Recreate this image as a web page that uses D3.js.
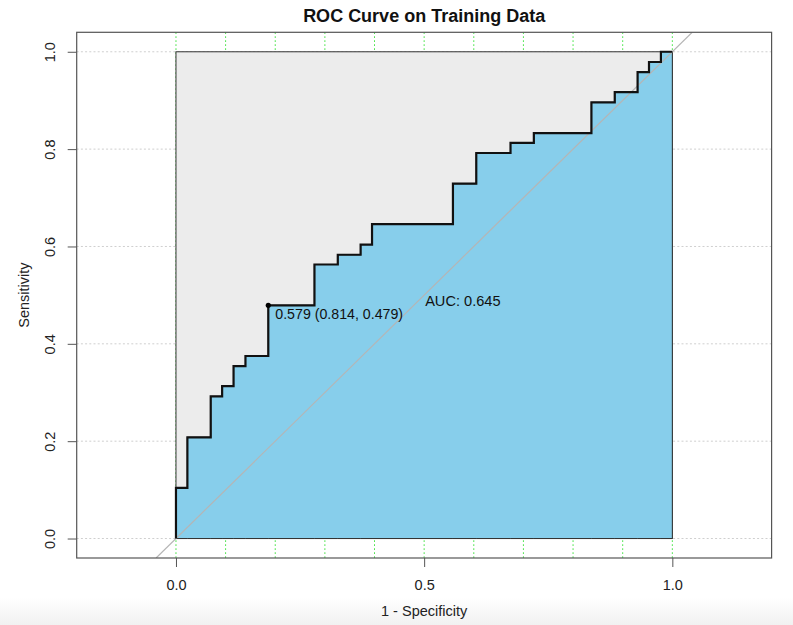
<!DOCTYPE html>
<html>
<head>
<meta charset="utf-8">
<script src="https://cdn.jsdelivr.net/npm/d3@7"></script>
<style>
  html, body { margin: 0; padding: 0; background: #fff; }
  svg { display: block; font-family: "Liberation Sans", Arial, Helvetica, sans-serif; }
</style>
</head>
<body>
<svg id="chart" width="793" height="625"></svg>
<script>
// ROC curve vertices (1 - specificity, sensitivity), stepped vertically first
const fpr = [0, 0.023, 0.070, 0.093, 0.116, 0.140, 0.186, 0.279, 0.326, 0.372, 0.395,
             0.558, 0.605, 0.674, 0.721, 0.837, 0.884, 0.930, 0.953, 0.977, 1.000];
const tpr = [0, 0.104, 0.208, 0.292, 0.313, 0.354, 0.375, 0.479, 0.563, 0.583, 0.604,
             0.646, 0.729, 0.792, 0.813, 0.833, 0.896, 0.917, 0.958, 0.979, 1.000];

// Best threshold and its (specificity, sensitivity)
const bestThreshold = 0.579;
const bestSpecificity = 0.814;
const bestSensitivity = 0.479;
const aucValue = 0.645;

// Axis ticks and grid positions
const xTicks = [0, 0.5, 1];
const xTickLabels = ["0.0", "0.5", "1.0"];
const yTicks = [0, 0.2, 0.4, 0.6, 0.8, 1.0];
const yTickLabels = ["0.0", "0.2", "0.4", "0.6", "0.8", "1.0"];
const xGrid = [0, 0.1, 0.2, 0.3, 0.4, 0.5, 0.6, 0.7, 0.8, 0.9, 1.0];
const yGrid = [0, 0.2, 0.4, 0.6, 0.8, 1.0];

(function () {
const svg = d3.select("#chart");

// faint band along the bottom edge
const defs = svg.append("defs");
const grad = defs.append("linearGradient").attr("id", "band")
  .attr("x1", 0).attr("y1", 0).attr("x2", 0).attr("y2", 1);
grad.append("stop").attr("offset", "0%").attr("stop-color", "#ffffff");
grad.append("stop").attr("offset", "100%").attr("stop-color", "#f1f1f1");
svg.append("rect").attr("x", 0).attr("y", 598).attr("width", 793).attr("height", 27)
  .attr("fill", "url(#band)");

const pLeft = 76.7, pRight = 771.6, pTop = 32.3, pBottom = 558.0;
const x = d3.scaleLinear().domain([-0.2, 1.2]).range([pLeft, pRight]);
const y = d3.scaleLinear().domain([-0.04, 1.04]).range([pBottom, pTop]);

defs.append("clipPath").attr("id", "plotclip")
  .append("rect").attr("x", pLeft).attr("y", pTop)
  .attr("width", pRight - pLeft).attr("height", pBottom - pTop);

const plot = svg.append("g").attr("clip-path", "url(#plotclip)");

// grid
plot.selectAll("line.hgrid").data(yGrid).join("line")
  .attr("class", "hgrid")
  .attr("x1", pLeft).attr("x2", pRight)
  .attr("y1", d => y(d)).attr("y2", d => y(d))
  .attr("stroke", "#cfcfcf").attr("stroke-width", 1)
  .attr("stroke-dasharray", "2,2.2");
plot.selectAll("line.vgrid").data(xGrid).join("line")
  .attr("class", "vgrid")
  .attr("x1", d => x(d)).attr("x2", d => x(d))
  .attr("y1", pTop).attr("y2", pBottom)
  .attr("stroke", "#3fe23f").attr("stroke-width", 1)
  .attr("stroke-dasharray", "1.6,2.4");

// maximum-AUC square
plot.append("rect")
  .attr("x", x(0)).attr("y", y(1))
  .attr("width", x(1) - x(0)).attr("height", y(0) - y(1))
  .attr("fill", "#ececec").attr("stroke", "#333").attr("stroke-width", 1);

const pts = fpr.map((f, i) => [f, tpr[i]]);

// area under the curve
const area = d3.area()
  .x(d => x(d[0])).y0(y(0)).y1(d => y(d[1]))
  .curve(d3.curveStepBefore);
plot.append("path").datum(pts)
  .attr("d", area)
  .attr("fill", "#87ceeb").attr("stroke", "#333").attr("stroke-width", 1);

// chance diagonal
plot.append("line")
  .attr("x1", x(-0.04)).attr("y1", y(-0.04))
  .attr("x2", x(1.04)).attr("y2", y(1.04))
  .attr("stroke", "#b5b5b5").attr("stroke-width", 1.2);

// ROC curve
const line = d3.line()
  .x(d => x(d[0])).y(d => y(d[1]))
  .curve(d3.curveStepBefore);
plot.append("path").datum(pts)
  .attr("d", line)
  .attr("fill", "none").attr("stroke", "#111").attr("stroke-width", 2.2)
  .attr("stroke-linejoin", "miter");

// best threshold
const bx = x(1 - bestSpecificity), by = y(bestSensitivity);
plot.append("circle").attr("cx", bx).attr("cy", by).attr("r", 2.6).attr("fill", "#000");
svg.append("text")
  .attr("x", bx + 7).attr("y", by + 9)
  .attr("dominant-baseline", "central")
  .attr("font-size", "14.2px").attr("fill", "#111")
  .text(`${bestThreshold.toFixed(3)} (${bestSpecificity.toFixed(3)}, ${bestSensitivity.toFixed(3)})`);

// AUC label
svg.append("text")
  .attr("x", x(0.5) + 1).attr("y", y(0.5) + 5.6)
  .attr("dominant-baseline", "central")
  .attr("font-size", "14.6px").attr("fill", "#111")
  .text(`AUC: ${aucValue.toFixed(3)}`);

// plot frame
svg.append("rect")
  .attr("x", pLeft).attr("y", pTop)
  .attr("width", pRight - pLeft).attr("height", pBottom - pTop)
  .attr("fill", "none").attr("stroke", "#555").attr("stroke-width", 1.2);

// x axis
const xAxis = d3.axisBottom(x).tickValues(xTicks).tickSize(9)
  .tickFormat((d, i) => xTickLabels[i]);
const gx = svg.append("g").attr("transform", `translate(0,${pBottom})`).call(xAxis);
gx.select(".domain").remove();
gx.selectAll(".tick line").attr("stroke", "#555");
gx.selectAll(".tick text")
  .attr("y", 27).attr("dy", null).attr("dominant-baseline", "central")
  .attr("font-size", "14.5px").attr("fill", "#222");
gx.attr("font-family", null).attr("font-size", null);

// y axis
const yAxis = d3.axisLeft(y).tickValues(yTicks).tickSize(9)
  .tickFormat((d, i) => yTickLabels[i]);
const gy = svg.append("g").attr("transform", `translate(${pLeft},0)`).call(yAxis);
gy.select(".domain").remove();
gy.selectAll(".tick line").attr("stroke", "#555");
gy.selectAll(".tick text")
  .attr("x", null).attr("dy", null)
  .attr("transform", "translate(-27,0) rotate(-90)")
  .attr("text-anchor", "middle").attr("dominant-baseline", "central")
  .attr("font-size", "14.5px").attr("fill", "#222");
gy.attr("font-family", null).attr("font-size", null);

// titles
svg.append("text")
  .attr("x", x(0.5)).attr("y", 15.5)
  .attr("text-anchor", "middle").attr("dominant-baseline", "central")
  .attr("font-size", "18px").attr("font-weight", "bold").attr("fill", "#111")
  .text("ROC Curve on Training Data");
svg.append("text")
  .attr("x", x(0.5)).attr("y", 611)
  .attr("text-anchor", "middle").attr("dominant-baseline", "central")
  .attr("font-size", "14.5px").attr("fill", "#222")
  .text("1 - Specificity");
svg.append("text")
  .attr("transform", `translate(24,${y(0.5)}) rotate(-90)`)
  .attr("text-anchor", "middle").attr("dominant-baseline", "central")
  .attr("font-size", "14.5px").attr("fill", "#222")
  .text("Sensitivity");
})();
</script>
</body>
</html>
